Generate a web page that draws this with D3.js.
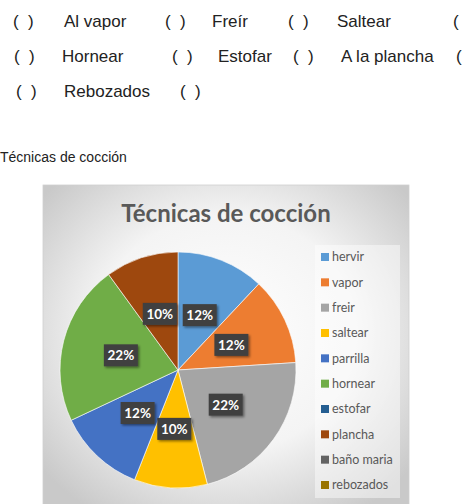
<!DOCTYPE html>
<html><head><meta charset="utf-8">
<script src="https://cdn.jsdelivr.net/npm/d3@7"></script>
<style>html,body{margin:0;padding:0;background:#fff;}svg{display:block;}text{white-space:pre;}</style>
</head><body>
<script>
// ---- data ----
const categories = ["hervir","vapor","freir","saltear","parrilla","hornear","estofar","plancha","baño maria","rebozados"];
const values = [12, 12, 22, 10, 12, 22, 0, 10, 0, 0];
const colors = ["#5B9BD5","#ED7D31","#A5A5A5","#FFC000","#4472C4","#70AD47","#255E91","#9E480E","#636363","#997300"];
const chartTitle = "Técnicas de cocción";
const docLines = [
  [["(  )",13],["Al vapor",64],["(  )",165],["Freír",212],["(  )",288],["Saltear",337],["(",453]],
  [["(  )",14],["Hornear",62],["(  )",172],["Estofar",218],["(  )",293],["A la plancha",341],["(",456]],
  [["(  )",16],["Rebozados",64],["(  )",180]]
];
const captionText = "Técnicas de cocción";

const W = 468, H = 504;
const svg = d3.select("body").append("svg").attr("width", W).attr("height", H);
const defs = svg.append("defs");

// document text
const lineY = [27, 62, 97];
docLines.forEach((ln, i) => {
  svg.append("g").selectAll("text").data(ln).join("text")
    .attr("x", d => d[1]).attr("y", lineY[i])
    .attr("font-family", "Liberation Sans, Arial, sans-serif")
    .attr("font-size", 17).attr("fill", "#222")
    .text(d => d[0]);
});
svg.append("text").attr("x", 0).attr("y", 162)
  .attr("font-family", "Liberation Sans, Arial, sans-serif")
  .attr("font-size", 14).attr("fill", "#222").text(captionText);

// chart area
const box = {x: 43, y: 185, w: 366, h: 330};
const grad = defs.append("radialGradient").attr("id", "bg")
  .attr("cx", "50%").attr("cy", "45%").attr("r", "65%");
grad.append("stop").attr("offset", "0%").attr("stop-color", "#ffffff");
grad.append("stop").attr("offset", "55%").attr("stop-color", "#f4f4f4");
grad.append("stop").attr("offset", "100%").attr("stop-color", "#c9c9c9");
svg.append("rect").attr("x", box.x).attr("y", box.y).attr("width", box.w).attr("height", box.h)
  .attr("fill", "url(#bg)").attr("stroke", "#d0d0d0").attr("stroke-width", 0.8);

svg.append("text").attr("x", 226).attr("y", 222).attr("text-anchor", "middle")
  .attr("font-family", "Lato, 'Open Sans', sans-serif").attr("font-weight", "bold")
  .attr("font-size", 24).attr("fill", "#595959").text(chartTitle);

// pie
const cx = 178, cy = 370, r = 118;
const data = categories.map((c, i) => ({cat: c, value: values[i], color: colors[i]}));
const pie = d3.pie().sort(null).value(d => d.value);
const arcs = pie(data);
const arc = d3.arc().innerRadius(0).outerRadius(r);
const g = svg.append("g").attr("transform", `translate(${cx},${cy})`);
g.selectAll("path").data(arcs).join("path")
  .attr("d", arc).attr("fill", d => d.data.color)
  .attr("stroke", "#ffffff").attr("stroke-width", d => d.data.value > 0 ? 0.6 : 0);

const sh = defs.append("filter").attr("id", "sh").attr("x", "-30%").attr("y", "-30%").attr("width", "160%").attr("height", "160%");
sh.append("feDropShadow").attr("dx", 1.5).attr("dy", 1.5).attr("stdDeviation", 1.2).attr("flood-color", "#000").attr("flood-opacity", 0.45);

const labelArc = d3.arc().innerRadius(0).outerRadius(r);
const lbl = g.selectAll("g.lbl").data(arcs.filter(d => d.data.value > 0)).join("g")
  .attr("class", "lbl")
  .attr("transform", d => { const c = labelArc.centroid(d); return `translate(${c[0]},${c[1]})`; });
lbl.append("rect").attr("x", -17).attr("y", -11).attr("width", 34).attr("height", 22)
  .attr("fill", "#404040").attr("filter", "url(#sh)");
lbl.append("text").attr("text-anchor", "middle").attr("dy", "0.36em")
  .attr("font-family", "Lato, 'Open Sans', sans-serif").attr("font-weight", "bold")
  .attr("font-size", 13.5).attr("fill", "#ffffff")
  .text(d => d3.format(".0%")(d.data.value / d3.sum(values)));

// legend
svg.append("rect").attr("x", 315).attr("y", 245).attr("width", 85).attr("height", 253)
  .attr("fill", "#ffffff").attr("fill-opacity", 0.45);
const ly = d3.scalePoint().domain(categories).range([257, 485]);
const lg = svg.append("g").selectAll("g").data(data).join("g")
  .attr("transform", d => `translate(321,${ly(d.cat)})`);
lg.append("rect").attr("x", 0).attr("y", -4).attr("width", 8).attr("height", 8).attr("fill", d => d.color);
lg.append("text").attr("x", 11).attr("dy", "0.35em")
  .attr("font-family", "Lato, 'Open Sans', sans-serif").attr("font-size", 12.5).attr("fill", "#595959")
  .text(d => d.cat);
</script>
</body></html>
